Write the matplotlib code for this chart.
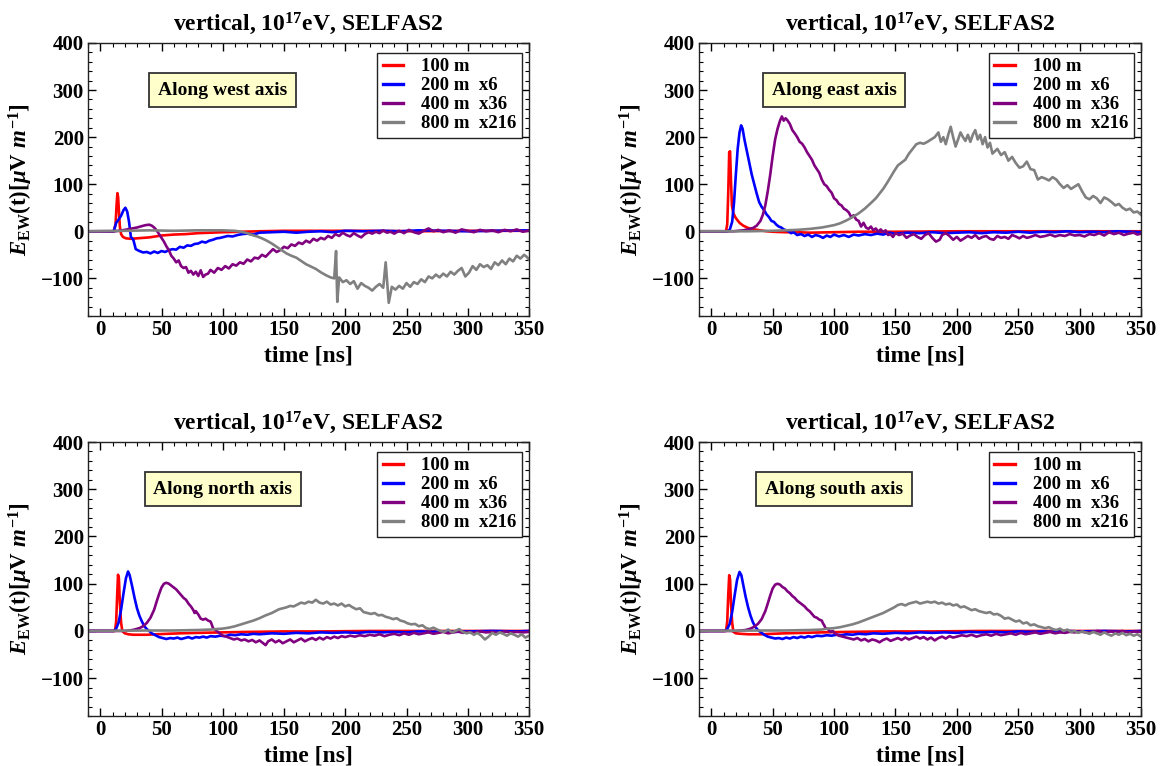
import matplotlib
matplotlib.use("Agg")
import matplotlib.pyplot as plt
from matplotlib.ticker import MultipleLocator

plt.rcParams['font.family'] = ['Liberation Serif', 'DejaVu Serif']
plt.rcParams['font.weight'] = 'bold'
plt.rcParams['mathtext.fontset'] = 'custom'
plt.rcParams['mathtext.rm'] = 'Liberation Serif:bold'
plt.rcParams['mathtext.it'] = 'Liberation Serif:italic:bold'
plt.rcParams['mathtext.bf'] = 'Liberation Serif:bold'

# ---------------- data: along west axis ----------------
west_100_t = [-10, 11, 12.5, 13.3, 14.0, 14.6, 15.3, 16.0, 17.0, 18.5, 21, 25, 30, 35, 40, 45, 50, 60, 70, 80, 90, 100, 115, 130, 150, 180, 220, 260, 300, 350]
west_100_v = [0, 0, 15, 55, 81, 72, 40, 10, -6, -12, -15, -16, -15, -14, -13, -11, -9, -7, -6, -4, -3, -2, -1, 0, 1, 1, 1, 0, 1, 1]

west_200_t = [-10, 11, 13, 15, 17, 19, 20.5, 22, 23.5, 25, 27, 29, 32, 35, 38, 41, 44, 47, 50, 53, 56, 59, 62, 65, 68, 71, 74, 77, 80, 83, 86, 89, 92, 95, 98, 101, 104, 108, 112, 116, 120, 125, 130, 140, 150, 160, 170, 180, 190, 200, 215, 230, 245, 260, 280, 300, 320, 350]
west_200_v = [0, 0, 18, 25, 33, 45, 50, 42, 20, -12, -18, -38, -42, -45, -44, -47, -43, -46, -42, -44, -40, -38, -39, -33, -35, -30, -31, -27, -26, -22, -24, -20, -18, -15, -14, -12, -10, -11, -8, -6, -5, -7, -3, -2, -1, -3, -1, 0, -2, 1, 0, 1, 0, 2, 1, 0, 1, 2]

west_400_t = [-10, 12, 18, 22, 26, 30, 34, 37, 40, 42, 44, 46, 48, 50, 52, 54, 56, 58, 60, 62, 64, 66, 68, 70, 72, 74, 76, 78, 80, 82, 84, 86, 88, 90, 93, 96, 99, 102, 105, 108, 111, 114, 117, 120, 123, 126, 129, 132, 135, 138, 141, 144, 147, 150, 153, 156, 159, 162, 165, 168, 171, 174, 177, 180, 183, 186, 189, 192, 195, 198, 201, 204, 207, 210, 213, 216, 219, 222, 225, 228, 231, 234, 237, 240, 244, 248, 252, 256, 260, 264, 268, 272, 276, 280, 285, 290, 295, 300, 305, 310, 315, 320, 325, 330, 335, 340, 345, 350]
west_400_v = [0, 0, 2, 4, 6, 8, 11, 13, 14, 12, 8, 2, -6, -14, -22, -32, -40, -52, -58, -66, -62, -74, -78, -76, -88, -84, -92, -86, -95, -83, -97, -92, -90, -82, -88, -78, -82, -74, -79, -70, -73, -66, -69, -60, -64, -56, -58, -50, -54, -46, -38, -44, -40, -33, -36, -28, -31, -24, -27, -20, -24, -16, -20, -14, -17, -10, -14, -6, -10, -3, -8, -11, -4, -9, -13, -6, -2, -5, -1, -4, 2, -3, -1, -5, 1, -4, 3, -2, -5, 1, 6, 0, 3, -2, 2, -3, 4, 1, -2, 3, 0, 2, -2, 3, 0, 4, -1, 2]

west_800_t = [-10, 20, 40, 60, 80, 100, 110, 115, 120, 124, 128, 132, 136, 140, 144, 148, 152, 156, 160, 164, 168, 172, 176, 180, 184, 188, 191, 192.5, 193.5, 195, 198, 201, 204, 207, 210, 213, 216, 219, 222, 225, 228, 231, 233, 235.5, 238, 241, 244, 247, 250, 253, 256, 259, 262, 265, 268, 271, 274, 277, 280, 283, 286, 289, 292, 295, 298, 301, 304, 307, 310, 313, 316, 319, 322, 325, 328, 331, 334, 337, 340, 343, 346, 348, 350]
west_800_v = [0, 1, 2, 1, 2, 2, 1, -1, -4, -8, -11, -15, -20, -26, -33, -40, -47, -52, -56, -63, -70, -75, -80, -87, -93, -98, -100, -42, -150, -98, -108, -104, -112, -106, -122, -110, -116, -120, -126, -118, -112, -120, -66, -152, -118, -124, -116, -122, -110, -118, -108, -112, -102, -108, -96, -100, -92, -98, -90, -96, -86, -92, -84, -78, -96, -88, -74, -82, -70, -76, -72, -80, -66, -72, -62, -70, -58, -64, -52, -58, -50, -54, -60]

# ---------------- data: along east axis ----------------
east_100_t = [-10, 12, 13, 13.8, 14.6, 15.3, 16, 16.8, 18, 20, 23, 26, 30, 35, 40, 45, 50, 60, 70, 80, 100, 120, 150, 200, 250, 300, 350]
east_100_v = [0, 0, 15, 80, 168, 170, 110, 55, 38, 28, 18, 12, 7, 4, 2, 0, -1, -2, -2, -3, -2, -1, -1, 0, 0, 0, 0]

east_200_t = [-10, 13, 15, 17, 18.5, 20, 21.5, 23, 24.3, 25.5, 27, 29, 31, 33, 35, 37, 39, 41, 43, 45, 47, 49, 51, 53, 55, 57, 59, 61, 63, 65, 67, 70, 73, 76, 79, 82, 85, 88, 91, 94, 97, 100, 104, 108, 112, 116, 120, 125, 130, 135, 140, 145, 150, 160, 170, 180, 190, 200, 210, 220, 230, 240, 250, 260, 270, 280, 290, 300, 310, 320, 330, 340, 350]
east_200_v = [0, 0, 3, 20, 60, 120, 175, 210, 225, 218, 195, 170, 145, 120, 100, 80, 62, 52, 45, 36, 30, 22, 20, 14, 10, 8, 4, 2, 0, -4, -2, -8, -6, -10, -7, -12, -8, -10, -14, -9, -12, -7, -11, -8, -12, -7, -9, -6, -8, -5, -7, -3, -5, -3, -4, -2, -4, -3, -2, -4, -2, -3, -1, -3, -1, -2, 0, -2, -1, -2, 0, -1, -2]

east_400_t = [-10, 18, 22, 26, 30, 34, 37, 40, 42, 44, 46, 48, 50, 52, 54, 56, 57.5, 59, 60.5, 62, 64, 66, 68, 70, 72, 74, 76, 78, 80, 82, 84, 86, 88, 90, 92, 94, 96, 98, 100, 102, 104, 106, 108, 110, 112, 114, 116, 118, 120, 122, 124, 126, 128, 130, 132, 134, 136, 138, 140, 142, 144, 146, 148, 150, 153, 156, 159, 162, 165, 168, 171, 174, 177, 180, 183, 186, 188, 191, 194, 197, 200, 203, 206, 209, 212, 215, 218, 221, 224, 227, 230, 233, 236, 239, 242, 245, 248, 251, 254, 257, 260, 264, 268, 272, 276, 280, 284, 288, 292, 296, 300, 304, 308, 312, 316, 320, 324, 328, 332, 336, 340, 344, 347, 350]
east_400_v = [0, 0, 1, 2, 4, 7, 12, 22, 35, 55, 85, 120, 160, 195, 218, 235, 244, 235, 240, 236, 228, 215, 208, 200, 190, 186, 178, 168, 160, 152, 140, 132, 124, 110, 100, 96, 88, 82, 70, 66, 58, 55, 48, 45, 40, 30, 34, 25, 22, 10, 18, 8, 5, 10, 2, 6, -1, 4, -2, 2, -8, -6, -12, -4, -8, -5, -14, -9, -6, -12, -16, -8, -4, -14, -22, -18, -8, -4, -10, -18, -12, -20, -15, -10, -14, -8, -16, -12, -10, -16, -18, -10, -14, -12, -16, -8, -11, -15, -10, -14, -12, -8, -12, -10, -7, -11, -8, -10, -6, -9, -8, -11, -6, -8, -4, -9, -2, -6, -3, -8, -5, -3, -7, -5]

east_800_t = [-10, 30, 50, 60, 70, 80, 90, 100, 105, 110, 115, 120, 125, 130, 134, 137, 140, 143, 146, 149, 152, 155, 158, 161, 164, 167, 170, 173, 176, 179, 182, 185, 187, 189, 191, 193, 195, 197, 199, 201, 203, 205, 207, 209, 211, 213, 215, 217, 219, 221, 223, 225, 227, 229, 231, 233, 236, 239, 242, 245, 248, 251, 254, 257, 260, 263, 266, 269, 272, 275, 278, 281, 284, 287, 290, 293, 296, 299, 302, 305, 308, 311, 314, 317, 320, 323, 326, 329, 332, 335, 338, 341, 344, 347, 350]
east_800_v = [0, 0, 1, 2, 3, 5, 8, 13, 17, 23, 30, 38, 48, 60, 70, 80, 90, 102, 115, 128, 140, 146, 152, 165, 175, 185, 188, 186, 190, 195, 200, 210, 190, 200, 185, 205, 222, 200, 180, 195, 210, 200, 192, 205, 190, 205, 215, 195, 205, 185, 200, 178, 188, 165, 170, 175, 162, 168, 150, 158, 145, 135, 138, 148, 132, 130, 110, 115, 112, 108, 115, 110, 100, 92, 98, 90, 95, 100, 85, 72, 68, 75, 70, 60, 72, 68, 62, 55, 58, 50, 45, 48, 40, 42, 35]

# ---------------- data: along north axis ----------------
north_100_t = [-10, 12, 13, 13.8, 14.5, 15.2, 16, 17, 18, 20, 23, 27, 32, 38, 45, 55, 65, 80, 100, 120, 150, 180, 220, 260, 300, 350]
north_100_v = [0, 0, 20, 75, 119, 112, 60, 18, 0, -5, -7, -8, -8, -8, -7, -6, -5, -4, -3, -2, -1, -1, 0, 0, 0, 0]

north_200_t = [-10, 11, 13, 15, 17, 19, 21, 22.7, 24, 26, 28, 30, 32, 34, 36, 38, 40, 42, 45, 48, 51, 54, 57, 60, 63, 66, 69, 72, 75, 78, 81, 84, 87, 90, 94, 98, 102, 106, 110, 115, 120, 125, 130, 140, 150, 160, 170, 180, 190, 200, 210, 220, 230, 240, 250, 260, 270, 280, 290, 300, 320, 340, 350]
north_200_v = [0, 0, 5, 18, 45, 80, 112, 126, 118, 95, 70, 48, 32, 20, 10, 4, 0, -5, -9, -13, -15, -17, -15, -16, -14, -17, -15, -13, -16, -13, -14, -12, -14, -11, -12, -10, -11, -8, -9, -7, -8, -6, -7, -5, -6, -4, -5, -3, -4, -3, -4, -2, -3, -2, -3, -1, -2, -1, -2, -1, 0, -1, 0]

north_400_t = [-10, 20, 24, 28, 32, 35, 38, 41, 44, 46, 48, 50, 52, 54, 56, 58, 60, 62, 64, 66, 68, 70, 72, 74, 76, 77, 78, 80, 82, 84, 86, 88, 90, 91, 92, 94, 96, 98, 100, 103, 106, 109, 112, 115, 118, 121, 124, 127, 130, 133, 135, 137, 140, 143, 146, 149, 152, 155, 158, 161, 164, 167, 170, 173, 176, 179, 182, 185, 188, 191, 194, 197, 200, 204, 208, 212, 216, 220, 224, 228, 232, 236, 240, 244, 248, 252, 256, 260, 264, 268, 272, 276, 280, 284, 288, 292, 296, 300, 305, 310, 315, 320, 325, 330, 335, 340, 345, 350]
north_400_v = [0, 0, 1, 3, 6, 10, 17, 28, 45, 62, 78, 92, 100, 102, 100, 96, 92, 88, 82, 76, 70, 66, 58, 52, 44, 38, 42, 35, 26, 24, 26, 22, 20, 14, 6, 2, -2, -6, -10, -12, -15, -18, -16, -20, -18, -22, -19, -24, -20, -26, -30, -22, -18, -24, -20, -26, -22, -18, -24, -20, -16, -22, -18, -15, -19, -14, -18, -13, -16, -12, -15, -11, -13, -10, -12, -9, -11, -8, -10, -7, -11, -8, -6, -9, -5, -8, -4, -7, -5, -3, -6, -4, -2, -5, -3, -1, -4, -2, -4, -1, -3, -2, -4, -1, -3, -2, -3, -2]

north_800_t = [-10, 40, 60, 80, 90, 100, 105, 110, 115, 120, 125, 130, 135, 140, 143, 146, 149, 152, 155, 158, 161, 164, 167, 170, 173, 176, 179, 182, 185, 188, 191, 194, 197, 200, 203, 206, 209, 212, 215, 218, 221, 224, 227, 230, 233, 236, 239, 242, 245, 248, 251, 254, 257, 260, 263, 266, 269, 272, 275, 278, 281, 284, 287, 290, 293, 296, 299, 302, 305, 308, 311, 314, 317, 320, 323, 326, 329, 332, 335, 338, 341, 344, 347, 350]
north_800_v = [0, 1, 1, 2, 3, 5, 7, 10, 14, 18, 22, 27, 33, 38, 42, 46, 48, 50, 53, 52, 56, 60, 58, 62, 60, 66, 60, 58, 62, 56, 58, 54, 58, 52, 55, 50, 46, 48, 40, 38, 36, 38, 33, 34, 30, 28, 25, 27, 22, 20, 16, 14, 15, 10, 12, 6, 4, 7, 3, 0, -2, 3, -3, 0, 4, -2, -5, -3, -8, -4, -10, -18, -12, -4, -8, -3, -6, -10, -5, -8, -12, -7, -14, -10]

# ---------------- data: along south axis ----------------
south_100_t = [-10, 12, 13, 13.8, 14.6, 15.3, 16, 17, 18, 20, 24, 30, 40, 50, 60, 75, 90, 110, 140, 180, 220, 260, 300, 350]
south_100_v = [0, 0, 20, 75, 118, 110, 60, 18, -2, -5, -6, -7, -7, -6, -5, -4, -3, -2, -1, -1, 0, 0, 0, 0]

south_200_t = [-10, 11, 13, 15, 17, 19, 21, 23, 24.5, 26, 28, 30, 32, 34, 36, 38, 40, 43, 46, 49, 52, 55, 58, 61, 64, 67, 70, 73, 76, 79, 82, 86, 90, 94, 98, 102, 106, 110, 115, 120, 126, 132, 140, 150, 160, 170, 180, 190, 200, 210, 220, 230, 240, 250, 260, 270, 280, 290, 300, 320, 340, 350]
south_200_v = [0, 0, 4, 15, 40, 75, 108, 125, 118, 98, 72, 50, 32, 18, 8, 2, -2, -8, -12, -14, -16, -15, -17, -14, -16, -13, -15, -12, -14, -11, -13, -10, -11, -9, -10, -8, -9, -7, -8, -6, -7, -5, -6, -4, -5, -3, -4, -3, -4, -2, -3, -2, -3, -1, -2, -1, -2, 0, -1, 0, -1, 0]

south_400_t = [-10, 20, 24, 28, 32, 35, 38, 41, 44, 46, 48, 50, 52, 54, 56, 58, 60, 62, 64, 66, 68, 70, 72, 74, 76, 78, 80, 82, 84, 86, 88, 90, 91, 92, 93, 95, 97, 99, 101, 104, 107, 110, 113, 116, 119, 122, 125, 128, 131, 134, 137, 140, 143, 146, 149, 152, 155, 158, 161, 164, 167, 170, 173, 176, 179, 182, 185, 188, 191, 194, 197, 200, 204, 208, 212, 216, 220, 224, 228, 232, 236, 240, 244, 248, 252, 256, 260, 264, 268, 272, 276, 280, 284, 288, 292, 296, 300, 305, 310, 315, 320, 325, 330, 335, 340, 345, 350]
south_400_v = [0, 0, 1, 2, 5, 9, 15, 25, 42, 58, 75, 90, 98, 100, 98, 93, 90, 84, 80, 74, 70, 64, 60, 56, 52, 46, 42, 36, 30, 28, 24, 22, 16, 12, 6, 4, -2, 0, -6, -10, -12, -14, -16, -18, -15, -20, -17, -22, -18, -20, -24, -19, -16, -21, -18, -15, -19, -14, -18, -15, -12, -16, -13, -18, -14, -20, -15, -12, -16, -11, -14, -12, -9, -11, -8, -12, -9, -7, -10, -6, -9, -7, -5, -8, -4, -7, -5, -3, -6, -4, -2, -5, -3, -4, -2, -3, -1, -3, -2, 0, -3, -1, -2, 0, -3, -1, -2]

south_800_t = [-10, 40, 60, 80, 90, 95, 100, 105, 110, 115, 120, 125, 130, 135, 140, 143, 146, 149, 152, 155, 158, 161, 164, 167, 170, 173, 176, 179, 182, 185, 188, 191, 194, 197, 200, 203, 206, 209, 212, 215, 218, 221, 224, 227, 230, 233, 236, 239, 242, 245, 248, 251, 254, 257, 260, 263, 266, 269, 272, 275, 278, 281, 284, 287, 290, 293, 296, 299, 302, 305, 308, 311, 314, 317, 320, 323, 326, 329, 332, 335, 338, 341, 344, 347, 350]
south_800_v = [0, 1, 1, 2, 3, 5, 6, 8, 11, 14, 18, 23, 28, 33, 38, 42, 46, 50, 55, 57, 54, 58, 60, 62, 58, 60, 62, 60, 62, 58, 60, 56, 58, 54, 56, 50, 52, 48, 44, 46, 42, 40, 38, 40, 35, 36, 32, 26, 28, 24, 20, 22, 16, 18, 12, 14, 10, 8, 6, 8, 4, 2, 5, 0, 3, -2, 0, -4, -1, -3, -6, -2, -5, -8, -3, -7, -10, -5, -8, -4, -9, -6, -10, -7, -12]

# ---------------- labels ----------------
series_labels = ['100 m', '200 m  x6', '400 m  x36', '800 m  x216']
series_colors = ['#ff0000', '#0000ff', '#800080', '#808080']
panel_notes = ['Along west axis', 'Along east axis', 'Along north axis', 'Along south axis']
title_text = r'vertical, 10$^{\mathrm{17}}$eV, SELFAS2'
xlabel_text = 'time [ns]'
ylabel_text = r'$E_{\mathrm{EW}}\mathrm{(t)[}\mu\mathrm{V}\ m^{\mathrm{-1}}\mathrm{]}$'

panels = [
    [(west_100_t, west_100_v), (west_200_t, west_200_v), (west_400_t, west_400_v), (west_800_t, west_800_v)],
    [(east_100_t, east_100_v), (east_200_t, east_200_v), (east_400_t, east_400_v), (east_800_t, east_800_v)],
    [(north_100_t, north_100_v), (north_200_t, north_200_v), (north_400_t, north_400_v), (north_800_t, north_800_v)],
    [(south_100_t, south_100_v), (south_200_t, south_200_v), (south_400_t, south_400_v), (south_800_t, south_800_v)],
]

W, H = 1165, 766
fig = plt.figure(figsize=(W / 100, H / 100), dpi=100)

# axes boxes in pixels: (left, top, right, bottom)
boxes = [(88, 43, 529, 316), (699, 43, 1141, 316), (88, 442, 529, 716), (699, 442, 1141, 716)]

for i, (box, series) in enumerate(zip(boxes, panels)):
    l, t, r, b = box
    ax = fig.add_axes([l / W, 1 - b / H, (r - l) / W, (b - t) / H])
    for (tt, vv), lab, col in zip(series, series_labels, series_colors):
        ax.plot(tt, vv, color=col, lw=1.9, label=lab)
    ax.set_xlim(-10, 350)
    ax.set_ylim(-180, 400)
    ax.xaxis.set_major_locator(MultipleLocator(50))
    ax.xaxis.set_minor_locator(MultipleLocator(10))
    ax.yaxis.set_major_locator(MultipleLocator(100))
    ax.yaxis.set_minor_locator(MultipleLocator(20))
    ax.tick_params(which='both', direction='in', top=True, right=True, labelsize=15, pad=3)
    ax.tick_params(which='major', length=6, width=1)
    ax.tick_params(which='minor', length=3, width=0.8)
    for lab in ax.get_xticklabels() + ax.get_yticklabels():
        lab.set_fontweight('bold')
    for s in ax.spines.values():
        s.set_color('#222222')
        s.set_linewidth(1.0)
    ax.set_title(title_text, fontsize=17, fontweight='bold', pad=9)
    ax.set_xlabel(xlabel_text, fontsize=17, fontweight='bold', labelpad=4)
    ax.set_ylabel(ylabel_text, fontsize=16.5, labelpad=4)
    ax.text(100, 300, panel_notes[i], fontsize=14, fontweight='bold', ha='center', va='center',
            bbox=dict(boxstyle='square,pad=0.45', facecolor='#ffffcc', edgecolor='#333333', linewidth=1.3))
    leg = ax.legend(loc='upper right', bbox_to_anchor=(0.984, 0.965), borderaxespad=0,
                    fancybox=False, edgecolor='#222222', framealpha=1,
                    handlelength=1.1, handletextpad=0.95, labelspacing=0.1, borderpad=0.3,
                    prop={'weight': 'bold', 'size': 13.5})
    leg.get_frame().set_linewidth(1.0)
    for ln in leg.get_lines():
        ln.set_linewidth(2.4)

fig.savefig('out.png', dpi=100)
